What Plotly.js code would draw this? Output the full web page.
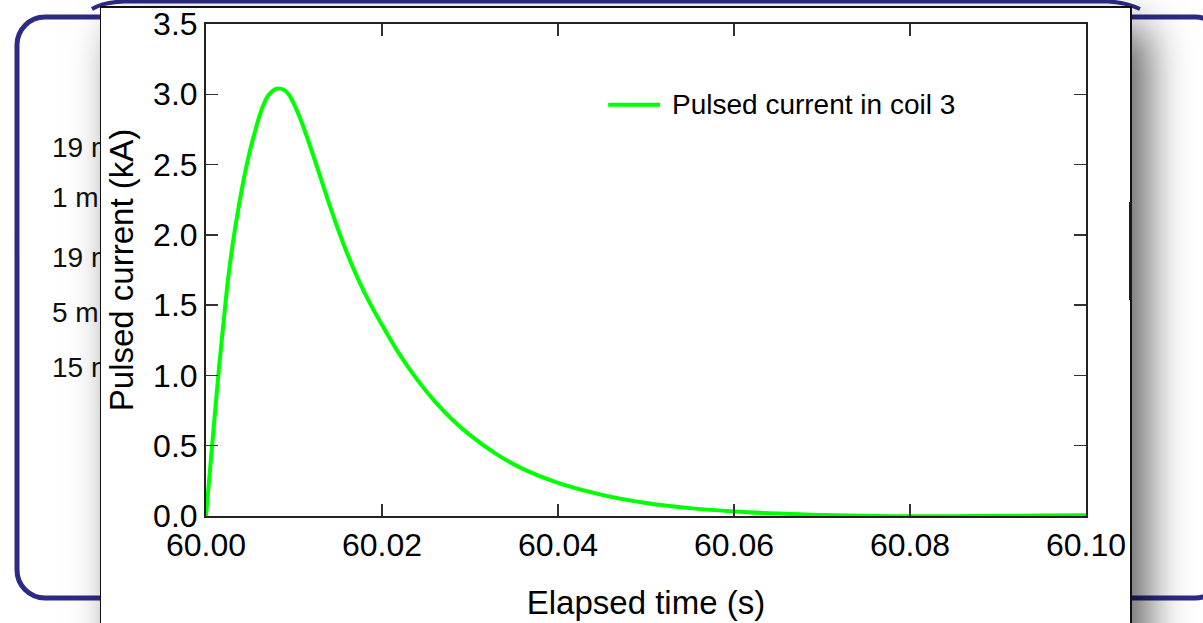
<!DOCTYPE html>
<html>
<head>
<meta charset="utf-8">
<script src="https://cdn.plot.ly/plotly-3.0.1.min.js"></script>
<style>
  html, body { margin: 0; padding: 0; background: #ffffff; overflow: hidden; }
  body { width: 1203px; height: 623px; position: relative; font-family: "Liberation Sans", Arial, sans-serif; }
  #deco { position: absolute; left: 0; top: 0; }
  .side-label { position: absolute; left: 52px; font-size: 28px; color: #111; white-space: nowrap; line-height: 1; }
  #card {
    position: absolute; left: 100px; top: 6px; width: 1029px; height: 640px;
    background: #ffffff; border-left: 1.5px solid #111; border-top: 2px solid #111; border-right: 2px solid #111;
    box-shadow: 16px 22px 40px rgba(0, 0, 0, 0.62);
  }
  #edge-mark { position: absolute; left: 1129px; top: 202px; width: 3px; height: 98px; background: #1a1a1a; }
  #chart { position: absolute; left: 0; top: -2px; width: 1029px; height: 619px; }
</style>
</head>
<body>
<svg id="deco" width="1203" height="623">
  <rect x="17" y="17" width="1206" height="581" rx="28" ry="28" fill="none" stroke="#2b2b87" stroke-width="5"/>
  <path d="M 92 9 Q 104 2 124 1.5 L 1108 1.5 Q 1124 2 1140 9" fill="none" stroke="#2b2b87" stroke-width="4"/>
</svg>
<div class="side-label" style="top:134px">19 mm</div>
<div class="side-label" style="top:184px">1 mm</div>
<div class="side-label" style="top:244px">19 mm</div>
<div class="side-label" style="top:299px">5 mm</div>
<div class="side-label" style="top:354px">15 mm</div>
<div id="card"><div id="chart"></div></div>
<div id="edge-mark"></div>
<script>
// Pulsed current waveform for coil 3 (time in s, current in kA)
const seriesName = "Pulsed current in coil 3";
const timeS = [
  60.0000, 60.0005, 60.0010, 60.0015, 60.0020, 60.0025, 60.0030, 60.0035, 60.0040, 60.0045,
  60.0050, 60.0055, 60.0060, 60.0065, 60.0070, 60.0075, 60.0080, 60.0085, 60.0090, 60.0095,
  60.0100, 60.0105, 60.0110, 60.0120, 60.0130, 60.0140, 60.0150, 60.0160, 60.0170, 60.0180,
  60.0190, 60.0200, 60.0220, 60.0240, 60.0260, 60.0280, 60.0300, 60.0330, 60.0360, 60.0400,
  60.0450, 60.0500, 60.0550, 60.0600, 60.0650, 60.0700, 60.0750, 60.0800, 60.0850, 60.0900,
  60.0950, 60.1000
];
const currentKA = [
  0.00, 0.36, 0.72, 1.07, 1.38, 1.68, 1.92, 2.12, 2.30, 2.46,
  2.60, 2.72, 2.83, 2.92, 2.985, 3.02, 3.04, 3.04, 3.025, 2.99,
  2.93, 2.86, 2.78, 2.60, 2.41, 2.22, 2.04, 1.875, 1.725, 1.59,
  1.47, 1.36, 1.15, 0.97, 0.815, 0.685, 0.575, 0.44, 0.335, 0.235,
  0.15, 0.092, 0.056, 0.032, 0.017, 0.007, 0.001, -0.002, -0.002, 0.001,
  0.004, 0.006
];
const xTicks = [60.00, 60.02, 60.04, 60.06, 60.08, 60.10];
const yTicks = [0.0, 0.5, 1.0, 1.5, 2.0, 2.5, 3.0, 3.5];

const lineColor = "#00ff00";
const fontFamily = "Liberation Sans, Arial, sans-serif";

const trace = {
  x: timeS,
  y: currentKA,
  type: "scatter",
  mode: "lines",
  name: seriesName,
  line: { color: lineColor, width: 4, shape: "spline", smoothing: 1 },
  showlegend: false
};

const axisCommon = {
  showgrid: false,
  zeroline: false,
  showline: true,
  linecolor: "#222",
  linewidth: 2,
  mirror: "ticks",
  ticks: "inside",
  ticklen: 12,
  tickwidth: 1.5,
  tickcolor: "#333",
  tickfont: { family: fontFamily, size: 32, color: "#000" }
};

const layout = {
  width: 1029,
  height: 619,
  margin: { l: 105, r: 44, t: 18, b: 109 },
  paper_bgcolor: "rgba(0,0,0,0)",
  plot_bgcolor: "#ffffff",
  showlegend: false,
  xaxis: Object.assign({}, axisCommon, {
    range: [60.0, 60.1],
    tickvals: xTicks,
    ticktext: xTicks.map(v => v.toFixed(2)),
    title: { text: "Elapsed time (s)", font: { family: fontFamily, size: 33, color: "#000" }, standoff: 28 }
  }),
  yaxis: Object.assign({}, axisCommon, {
    range: [0, 3.5],
    tickvals: yTicks,
    ticktext: yTicks.map(v => v.toFixed(1)),
    title: { text: "Pulsed current (kA)", font: { family: fontFamily, size: 33, color: "#000" }, standoff: 10 }
  }),
  shapes: [
    { type: "line", xref: "paper", yref: "paper", x0: 0.457, x1: 0.516, y0: 0.836, y1: 0.836,
      line: { color: lineColor, width: 4 } }
  ],
  annotations: [
    { xref: "paper", yref: "paper", x: 0.527, y: 0.836, xanchor: "left", yanchor: "middle",
      text: seriesName, showarrow: false, font: { family: fontFamily, size: 28, color: "#000" } }
  ]
};

Plotly.newPlot("chart", [trace], layout, { staticPlot: true, displayModeBar: false });
</script>
</body>
</html>
